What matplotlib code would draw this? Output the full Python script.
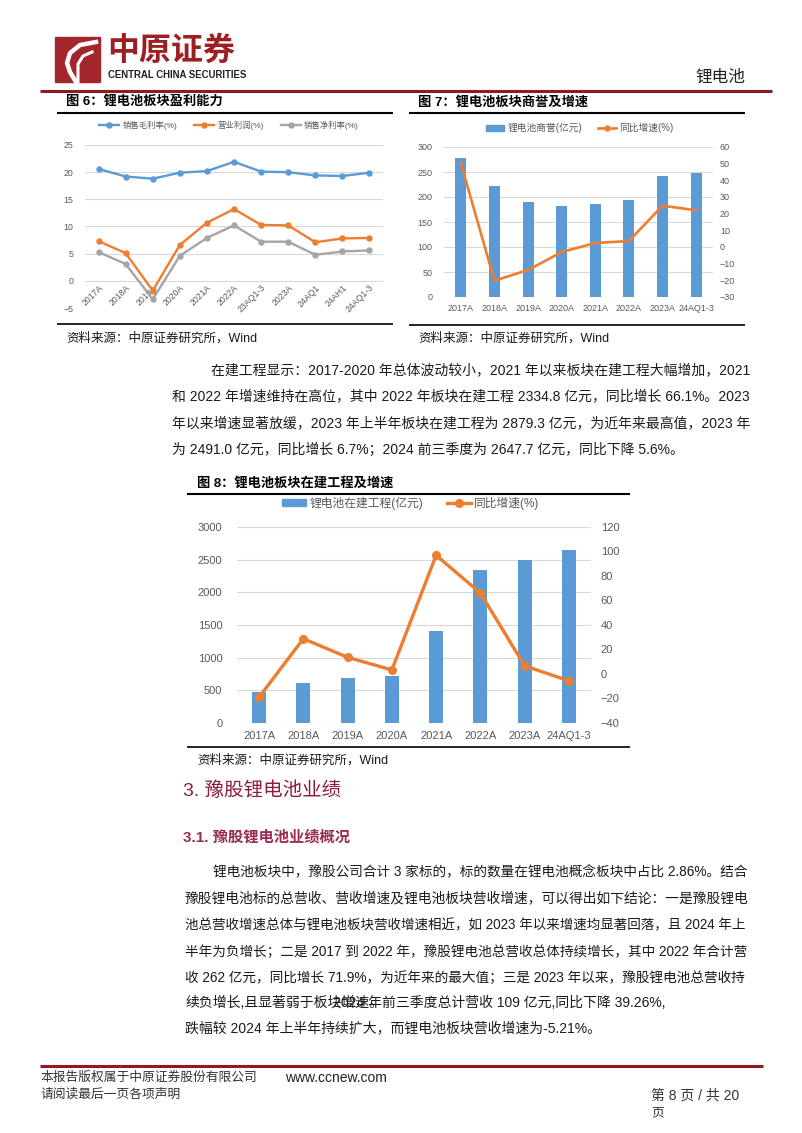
import matplotlib.pyplot as plt
from matplotlib.lines import Line2D
from matplotlib.patches import Patch, Rectangle

plt.rcParams['font.family'] = ['Liberation Sans', 'Noto Sans CJK SC', 'DejaVu Sans']

# 数据
cats6 = ['2017A', '2018A', '2019A', '2020A', '2021A', '2022A', '23AQ1-3',
         '2023A', '24AQ1', '24AH1', '24AQ1-3']
gross_margin = [20.6, 19.2, 18.8, 19.9, 20.2, 21.9, 20.1, 20.0, 19.4, 19.3, 19.9]
op_margin = [7.3, 5.1, -1.8, 6.6, 10.7, 13.2, 10.3, 10.2, 7.1, 7.8, 7.9]
net_margin = [5.3, 3.1, -3.4, 4.6, 7.9, 10.2, 7.2, 7.2, 4.8, 5.4, 5.6]

cats7 = ['2017A', '2018A', '2019A', '2020A', '2021A', '2022A', '2023A', '24AQ1-3']
goodwill = [279, 222, 190, 183, 187, 194, 242, 249]
goodwill_yoy = [50.4, -20.2, -13.8, -3.0, 2.4, 3.6, 24.8, 22.0]

cats8 = ['2017A', '2018A', '2019A', '2020A', '2021A', '2022A', '2023A', '24AQ1-3']
cip = [480, 612, 684, 714, 1405, 2334.8, 2491.0, 2647.7]
cip_yoy = [-18.8, 28.8, 13.6, 3.3, 96.9, 66.1, 6.7, -5.6]

BLUE = '#5B9BD5'
ORANGE = '#ED7D31'
GRAY = '#A5A5A5'
TICK = '#595959'
GRID = '#D9D9D9'
DARKRED = '#8E1B22'

W, H = 802, 1133
fig = plt.figure(figsize=(W / 100, H / 100), dpi=100)
renderer = fig.canvas.get_renderer()


def box(x0, y0, x1, y1):
    return [x0 / W, 1 - y1 / H, (x1 - x0) / W, (y1 - y0) / H]


bg = fig.add_axes([0, 0, 1, 1])
bg.set_xlim(0, W)
bg.set_ylim(H, 0)
bg.axis('off')


def txt(x, y, s, size=10, right=None, **kw):
    kw.setdefault('color', '#1a1a1a')
    t = bg.text(x, y, s, fontsize=size, va='center', ha=kw.pop('ha', 'left'), **kw)
    if right is not None:
        # 两端对齐：按行宽微调字号
        w = t.get_window_extent(renderer).width
        t.set_fontsize(size * (right - x) / w)
    return t


def hline(y, x0, x1, color='black', lw=1.4):
    bg.plot([x0, x1], [y, y], color=color, lw=lw, solid_capstyle='butt')


# 页眉
bg.add_patch(Rectangle((55, 37), 45, 45, color='#A3262C'))
bg.plot([96, 80, 70, 67, 70, 76], [42, 45, 53, 63, 72, 82], color='white', lw=3.2)
bg.plot([92, 83, 78, 78], [52, 56, 64, 82], color='white', lw=2.2)
txt(107, 52, '中原证券', 23, color='#9E1F23', fontweight='bold')
txt(108, 75, 'CENTRAL CHINA SECURITIES', 6.9, color='#222222', fontweight='bold')
txt(745, 77, '锂电池', 12, ha='right', color='#222222')
hline(91, 40, 772, DARKRED, 2.2)

# 图6
txt(66, 101, '图 6：锂电池板块盈利能力', 9.5, fontweight='bold', color='black')
hline(113, 57, 393, 'black', 1.5)
hline(324, 57, 393, 'black', 1.2)
txt(66, 338, '资料来源：中原证券研究所，Wind', 9)

ax6 = fig.add_axes(box(85, 145, 383, 308))
x6 = list(range(len(cats6)))
ax6.plot(x6, gross_margin, color=BLUE, lw=1.7, marker='o', ms=3.6, label='销售毛利率(%)')
ax6.plot(x6, op_margin, color=ORANGE, lw=1.7, marker='o', ms=3.6, label='营业利润(%)')
ax6.plot(x6, net_margin, color=GRAY, lw=1.7, marker='o', ms=3.6, label='销售净利率(%)')
ax6.set_xlim(-0.5, len(cats6) - 0.5)
ax6.set_ylim(-5, 25)
ax6.set_yticks(range(-5, 26, 5))
ax6.spines['bottom'].set_position(('data', 0))
for s in ax6.spines.values():
    s.set_visible(False)
ax6.set_xticks(x6)
ax6.set_xticklabels(cats6, rotation=45, ha='right', rotation_mode='anchor')
ax6.tick_params(length=0, labelsize=6.3, labelcolor=TICK)
ax6.tick_params(axis='y', pad=8.5)
ax6.tick_params(axis='x', pad=1.5)
ax6.grid(axis='y', color=GRID, lw=0.8)
ax6.set_axisbelow(True)
fig.legend(loc='center', bbox_to_anchor=(229 / W, 1 - 125 / H), ncol=3,
           frameon=False, fontsize=6, labelcolor=TICK, handlelength=2.4,
           columnspacing=2.0, handletextpad=0.4, borderaxespad=0)

# 图7
txt(418, 102, '图 7：锂电池板块商誉及增速', 9.5, fontweight='bold', color='black')
hline(113, 409, 745, 'black', 1.5)
hline(325, 409, 745, 'black', 1.2)
txt(418, 338, '资料来源：中原证券研究所，Wind', 9)

ax7 = fig.add_axes(box(444, 147, 713, 297))
x7 = range(len(cats7))
ax7.bar(x7, goodwill, width=0.33, color=BLUE)
ax7.set_xlim(-0.5, len(cats7) - 0.5)
ax7.set_ylim(0, 300)
ax7.set_yticks(range(0, 301, 50))
ax7.set_xticks(list(x7))
ax7.set_xticklabels(cats7)
ax7b = ax7.twinx()
ax7b.plot(x7, goodwill_yoy, color=ORANGE, lw=1.9)
ax7b.set_ylim(-30, 60)
ax7b.set_yticks(range(-30, 61, 10))
for a in (ax7, ax7b):
    for s in a.spines.values():
        s.set_visible(False)
    a.tick_params(length=0, labelsize=6.5, labelcolor=TICK)
ax7.tick_params(axis='y', pad=8.5)
ax7.tick_params(axis='x', pad=5)
ax7b.tick_params(axis='y', pad=5)
ax7.grid(axis='y', color=GRID, lw=0.8)
ax7.set_axisbelow(True)
h7 = [Patch(color=BLUE), Line2D([], [], color=ORANGE, lw=1.9, marker='o', ms=3.6)]
fig.legend(h7, ['锂电池商誉(亿元)', '同比增速(%)'], loc='center',
           bbox_to_anchor=(580 / W, 1 - 128 / H), ncol=2, frameon=False,
           fontsize=7, labelcolor=TICK, handlelength=1.8, handleheight=0.5,
           columnspacing=1.6, handletextpad=0.4, borderaxespad=0)

# 正文段落1
para1 = [
    (211, '在建工程显示：2017-2020 年总体波动较小，2021 年以来板块在建工程大幅增加，2021', 748),
    (172, '和 2022 年增速维持在高位，其中 2022 年板块在建工程 2334.8 亿元，同比增长 66.1%。2023', 748),
    (172, '年以来增速显著放缓，2023 年上半年板块在建工程为 2879.3 亿元，为近年来最高值，2023 年', 748),
    (172, '为 2491.0 亿元，同比增长 6.7%；2024 前三季度为 2647.7 亿元，同比下降 5.6%。', None),
]
for i, (x, line, r) in enumerate(para1):
    txt(x, 370 + i * 26.6, line, 10, right=r)

# 图8
txt(197, 483, '图 8：锂电池板块在建工程及增速', 9.5, fontweight='bold', color='black')
hline(494, 187, 630, 'black', 1.5)
hline(747, 187, 630, 'black', 1.2)
txt(197, 760, '资料来源：中原证券研究所，Wind', 9)

ax8 = fig.add_axes(box(237, 527, 591, 723))
x8 = range(len(cats8))
ax8.bar(x8, cip, width=0.32, color=BLUE)
ax8.set_xlim(-0.5, len(cats8) - 0.5)
ax8.set_ylim(0, 3000)
ax8.set_yticks(range(0, 3001, 500))
ax8.set_xticks(list(x8))
ax8.set_xticklabels(cats8)
ax8b = ax8.twinx()
ax8b.plot(x8, cip_yoy, color=ORANGE, lw=2.4, marker='o', ms=5.5)
ax8b.set_ylim(-40, 120)
ax8b.set_yticks(range(-40, 121, 20))
for a in (ax8, ax8b):
    for s in a.spines.values():
        s.set_visible(False)
    a.tick_params(length=0, labelsize=8, labelcolor=TICK)
ax8.tick_params(axis='y', pad=10.5)
ax8.tick_params(axis='x', pad=6)
ax8b.tick_params(axis='y', pad=7)
ax8.grid(axis='y', color=GRID, lw=0.8)
ax8.set_axisbelow(True)
h8 = [Patch(color=BLUE), Line2D([], [], color=ORANGE, lw=2.4, marker='o', ms=5.5)]
fig.legend(h8, ['锂电池在建工程(亿元)', '同比增速(%)'], loc='center',
           bbox_to_anchor=(411 / W, 1 - 503 / H), ncol=2, frameon=False,
           fontsize=8.5, labelcolor=TICK, handlelength=2.0, handleheight=0.5,
           columnspacing=2.0, handletextpad=0.3, borderaxespad=0)

# 第3节
txt(183, 791, '3. 豫股锂电池业绩', 14, color='#8C1D40')
txt(183, 837, '3.1. 豫股锂电池业绩概况', 11, color='#9A2B52', fontweight='bold')

para2 = [
    (213, '锂电池板块中，豫股公司合计 3 家标的，标的数量在锂电池概念板块中占比 2.86%。结合', 748),
    (185, '豫股锂电池标的总营收、营收增速及锂电池板块营收增速，可以得出如下结论：一是豫股锂电', 748),
    (185, '池总营收增速总体与锂电池板块营收增速相近，如 2023 年以来增速均显著回落，且 2024 年上', 748),
    (185, '半年为负增长；二是 2017 到 2022 年，豫股锂电池总营收总体持续增长，其中 2022 年合计营', 748),
    (185, '收 262 亿元，同比增长 71.9%，为近年来的最大值；三是 2023 年以来，豫股锂电池总营收持', 748),
    (185, '续负增长,且显著弱于板块增速。', None),
    (185, '跌幅较 2024 年上半年持续扩大，而锂电池板块营收增速为-5.21%。', None),
]
ys2 = [872, 898, 925, 952, 978, 1003, 1028]
for (x, line, r), y in zip(para2, ys2):
    txt(x, y, line, 10, right=r)
# 原文此处两段文字相互压叠，保留原样
txt(333, 1003, '2024 年前三季度总计营收 109 亿元,同比下降 39.26%,', 10)

# 页脚
hline(1066, 40, 763, DARKRED, 2.2)
txt(40, 1078, '本报告版权属于中原证券股份有限公司', 9.2, color='#333333')
txt(285, 1078, 'www.ccnew.com', 10, color='#222222')
txt(40, 1095, '请阅读最后一页各项声明', 9.2, color='#333333')
txt(651, 1095, '第 8 页 / 共 20', 10, color='#333333')
txt(651, 1113, '页', 9.2, color='#333333')

fig.savefig('out.png', dpi=100)
